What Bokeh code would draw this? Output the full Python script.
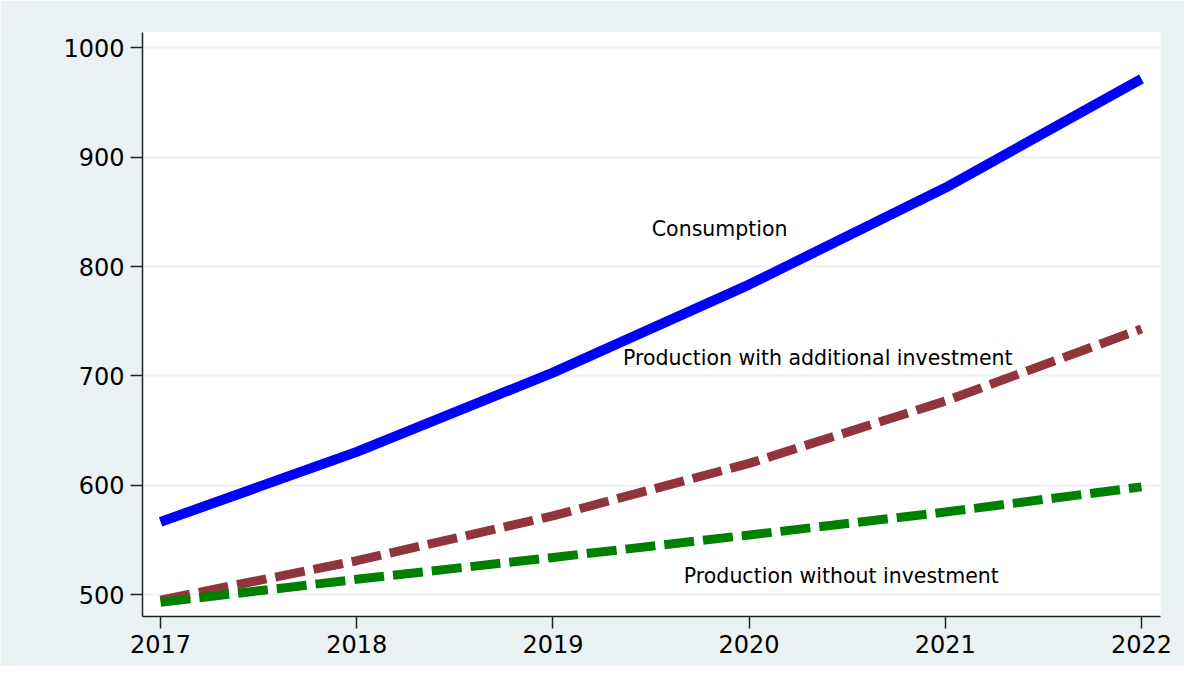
from bokeh.plotting import figure
from bokeh.models import Range1d, Label, FixedTicker
from bokeh.embed import file_html
from bokeh.resources import INLINE

years = [2017, 2018, 2019, 2020, 2021, 2022]
consumption = [566.5, 630.5, 703, 783.5, 872, 971.5]
prod_additional = [495, 531, 572, 620, 677, 743]
prod_without = [493, 514, 534, 554.5, 575.5, 598.5]
y_ticks = [500, 600, 700, 800, 900, 1000]

BG = "#EAF2F3"
p = figure(width=1184, height=666, output_backend="svg", toolbar_location=None,
           x_range=Range1d(2016.908, 2022.097), y_range=Range1d(480, 1014),
           min_border_left=142, min_border_right=24, min_border_top=32, min_border_bottom=50)
p.background_fill_color = "white"
p.border_fill_color = BG
p.outline_line_color = None

p.xgrid.grid_line_color = None
p.ygrid.grid_line_color = BG
p.ygrid.grid_line_width = 2

p.xaxis.ticker = FixedTicker(ticks=years)
p.yaxis.ticker = FixedTicker(ticks=y_ticks)
for ax in (p.xaxis, p.yaxis):
    ax.axis_line_color = "#222222"
    ax.axis_line_width = 1.5
    ax.major_tick_line_color = "#222222"
    ax.major_tick_line_width = 1.5
    ax.major_tick_out = 12
    ax.major_tick_in = 0
    ax.minor_tick_line_color = None
    ax.major_label_text_font = "DejaVu Sans"
    ax.major_label_text_font_size = "24px"
    ax.major_label_text_color = "black"
p.yaxis.major_label_standoff = 6
p.xaxis.major_label_standoff = 6

p.line(years, consumption, line_color="#0000FF", line_width=10)
p.line(years, prod_additional, line_color="#8F353B", line_width=9, line_dash="30 9")
p.line(years, prod_without, line_color="#008000", line_width=9, line_dash="30 9")

labels = [("Consumption", 2019.85, 834), ("Production with additional investment", 2020.35, 716),
          ("Production without investment", 2020.47, 517)]
for txt, x, y in labels:
    p.add_layout(Label(x=x, y=y, text=txt, text_font="DejaVu Sans", text_font_size="20.5px",
                       text_color="black", text_align="center", text_baseline="middle"))

open("out.html", "w").write(file_html(p, INLINE))
